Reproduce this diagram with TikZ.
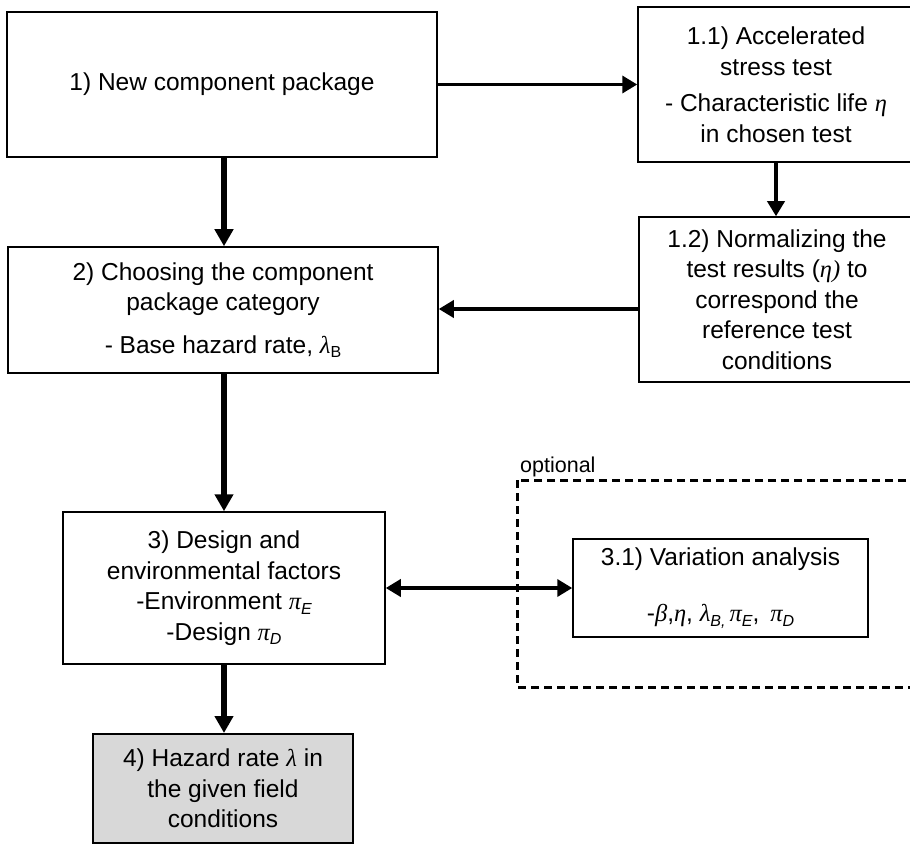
\documentclass[tikz,border=0pt]{standalone}
\usepackage{fontspec}
\setmainfont{Liberation Sans}
\newfontfamily\grfont{Liberation Serif}
\usetikzlibrary{arrows.meta}
\definecolor{boxgray}{RGB}{216,216,216}
\newcommand{\gk}[1]{{\grfont\itshape #1}}
\newcommand{\mysub}[1]{\raisebox{-0.35ex}{\fontsize{16}{16}\selectfont #1}}
\tikzset{
  box/.style={draw=black, line width=1.5pt, rectangle, inner sep=0pt, align=center,
    font=\fontsize{24.5}{30.5}\selectfont},
  thickarrow/.style={line width=5.5pt, -{Triangle[length=17pt,width=18pt]}},
  midarrow/.style={line width=3.5pt, -{Triangle[length=15pt,width=17pt]}},
  bothway/.style={line width=3.5pt, {Triangle[length=15pt,width=17pt]}-{Triangle[length=15pt,width=17pt]}},
  optframe/.style={draw=black, line width=3pt, dash pattern=on 8pt off 5pt},
}
\begin{document}
\begin{tikzpicture}[x=1pt,y=-1pt]
\clip (0,0) rectangle (910,845);
\fill[white] (0,0) rectangle (910,845);
% dashed optional frame
\draw[optframe] (517,480) rectangle (940,687);
\node[anchor=base west, inner sep=0pt, font=\fontsize{21.5}{24}\selectfont] (opt) at (520,472) {optional};
% boxes
\node[box, minimum width=430pt, minimum height=145pt] (n1) at (222,84.5) {1) New component package};
\node[box, minimum width=276pt, minimum height=155pt] (n11) at (776,84.5)
  {1.1) Accelerated\\ stress test\\[6pt] - Characteristic life \gk{η}\\ in chosen test};
\node[box, minimum width=276pt, minimum height=165pt] (n12) at (777,299.5)
  {1.2) Normalizing the\\ test results (\gk{η)} to\\ correspond the\\ reference test\\ conditions};
\node[box, minimum width=430pt, minimum height=126pt] (n2) at (223,310)
  {2) Choosing the component\\ package category\\[12pt] - Base hazard rate, \gk{λ}\mysub{B}};
\node[box, minimum width=322pt, minimum height=152pt] (n3) at (224,588)
  {3) Design and\\ environmental factors\\ -Environment \gk{π}\mysub{\itshape E}\\ -Design \gk{π}\mysub{\itshape D}};
\node[box, minimum width=295pt, minimum height=98pt] (n31) at (720.5,588)
  {3.1) Variation analysis\\[26pt] -\gk{β},\gk{η}, \gk{λ}\mysub{\itshape B,}\,\gk{π}\mysub{\itshape E},\, \gk{π}\mysub{\itshape D}};
\node[box, fill=boxgray, line width=2pt, minimum width=260pt, minimum height=109pt] (n4) at (223,788.5)
  {4) Hazard rate \gk{λ} in\\ the given field\\ conditions};
% connectors
\draw[midarrow] (n1.east) -- (n11.west);
\draw[midarrow] (n11.south) -- (n11.south |- n12.north);
\draw[midarrow] (n12.west |- 0,309) -- (n2.east |- 0,309);
\draw[thickarrow] (n1.south -| 224,0) -- (n2.north -| 224,0);
\draw[thickarrow] (n2.south -| 224,0) -- (n3.north -| 224,0);
\draw[thickarrow] (n3.south -| 224,0) -- (n4.north -| 224,0);
\draw[bothway] (n3.east) -- (n31.west);
\end{tikzpicture}
\end{document}
